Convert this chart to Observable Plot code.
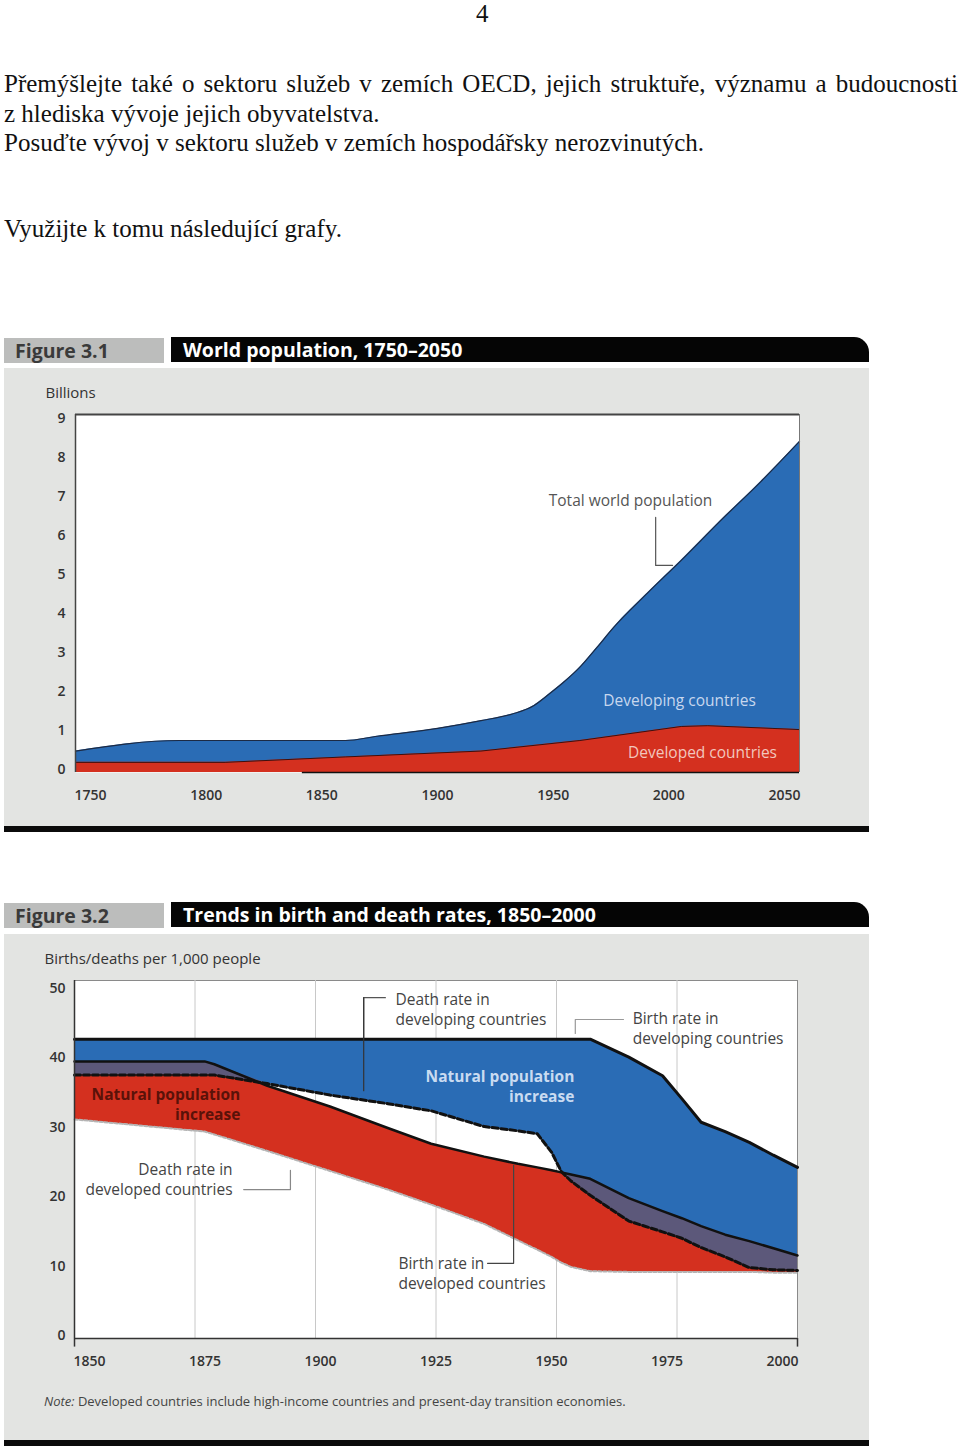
<!DOCTYPE html>
<html><head><meta charset="utf-8">
<script src="https://cdn.jsdelivr.net/npm/d3@7"></script>
<script src="https://cdn.jsdelivr.net/npm/@observablehq/plot@0.6"></script>
<style>
body{margin:0;background:#fff;}
#page{position:relative;width:960px;height:1448px;overflow:hidden;font-family:"Liberation Serif","Times New Roman",serif;color:#111;}
.t{position:absolute;font-size:25px;line-height:29.5px;white-space:nowrap;}
.j{text-align:justify;text-align-last:justify;}
.figl{position:absolute;left:4px;width:149px;height:25px;padding-left:11px;background:#bcbdbc;color:#3a3a3a;font:bold 19.5px/25px "Open Sans",sans-serif;}
.figt{position:absolute;left:171px;width:686px;height:25px;padding-left:12px;background:#050505;color:#fff;font:bold 19.5px/25px "Open Sans",sans-serif;border-top-right-radius:15px;}
.panel{position:absolute;left:4px;width:865px;background:#e3e4e2;}
.bar{position:absolute;left:4px;width:865px;height:6px;background:#0b0b0b;}
.panel svg{position:absolute;left:0;top:0;}
.note{position:absolute;left:40px;font:13px "Open Sans",sans-serif;color:#444;white-space:nowrap;}
</style>
</head><body>
<div id="page">
  <div class="t" style="left:476px;top:-1px;">4</div>
  <div class="t j" style="left:4px;top:69px;width:954px;">Přemýšlejte také o sektoru služeb v zemích OECD, jejich struktuře, významu a budoucnosti</div>
  <div class="t" style="left:4px;top:98.5px;">z hlediska vývoje jejich obyvatelstva.</div>
  <div class="t" style="left:4px;top:128px;">Posuďte vývoj v sektoru služeb v zemích hospodářsky nerozvinutých.</div>
  <div class="t" style="left:4px;top:214px;">Využijte k tomu následující grafy.</div>

  <div class="figl" style="top:338px;">Figure 3.1</div>
  <div class="figt" style="top:337px;">World population, 1750–2050</div>
  <div class="panel" id="p1" style="top:368px;height:458px;"></div>
  <div class="bar" style="top:826px;"></div>

  <div class="figl" style="top:903px;">Figure 3.2</div>
  <div class="figt" style="top:902px;">Trends in birth and death rates, 1850–2000</div>
  <div class="panel" id="p2" style="top:934px;height:506px;">
    <div class="note" style="top:458px;"><i>Note:</i> Developed countries include high-income countries and present-day transition economies.</div>
  </div>
  <div class="bar" style="top:1440px;"></div>
</div>
<script>
const BLUE = "#2a6cb5", RED = "#d4301f", PURPLE = "#5c587a";

// ---------- Figure 3.1 data (billions) ----------
const totalYears  = [1750, 1793, 1862, 1875, 1900, 1918, 1931, 1940, 1946, 1952, 1959, 1966, 1973, 1987, 2001, 2017, 2034, 2050];
const totalValues = [0.55, 0.82, 0.82, 0.93, 1.13, 1.33, 1.50, 1.72, 2.00, 2.30, 2.70, 3.20, 3.72, 4.60, 5.44, 6.44, 7.46, 8.49];
const devYears    = [1750, 1812, 1862, 1918, 1959, 2001, 2012, 2039, 2050];
const devValues   = [0.26, 0.26, 0.40, 0.55, 0.82, 1.18, 1.20, 1.13, 1.10];
const xTicks1 = [1750, 1800, 1850, 1900, 1950, 2000, 2050];
const yTicks1 = [0, 1, 2, 3, 4, 5, 6, 7, 8, 9];
const labels1 = [
  {text: "Total world population", year: 1980, value: 6.95, fill: "#555"},
  {text: "Developing countries", year: 2000.3, value: 1.82, fill: "#c7d7ee"},
  {text: "Developed countries", year: 2009.8, value: 0.51, fill: "#f2c6bd"}
];
const leader1 = [[1990.4, 6.54], [1990.4, 5.31], [1997.4, 5.31]];

// ---------- Figure 3.2 data (per 1,000 people) ----------
const rateYears = [1850, 1877, 1879, 1890, 1903, 1915, 1924, 1935, 1942, 1946, 1949, 1951, 1953, 1957, 1965, 1972, 1976, 1980, 1985, 1990, 1995, 2000];
const birthDeveloping = [41.8, 41.8, 41.8, 41.8, 41.8, 41.8, 41.8, 41.8, 41.8, 41.8, 41.8, 41.8, 41.8, 41.8, 39.3, 36.7, 33.5, 30.2, 28.9, 27.4, 25.6, 23.9];
const deathDeveloping = [36.8, 36.8, 36.8, 35.6, 34.0, 32.8, 31.8, 29.6, 29.0, 28.6, 26.0, 23.3, 22.0, 20.0, 16.4, 14.9, 14.0, 12.7, 11.4, 9.9, 9.6, 9.5];
const birthDeveloped  = [38.7, 38.7, 38.3, 35.3, 32.4, 29.4, 27.2, 25.4, 24.4, 23.9, 23.5, 23.2, 22.9, 22.3, 19.6, 17.8, 16.8, 15.7, 14.5, 13.6, 12.6, 11.6];
const deathDeveloped  = [30.6, 28.9, 28.5, 26.2, 23.4, 20.8, 18.7, 16.0, 13.7, 12.4, 11.4, 10.6, 10.0, 9.4, 9.3, 9.3, 9.3, 9.3, 9.3, 9.3, 9.2, 9.2];
const xTicks2 = [1850, 1875, 1900, 1925, 1950, 1975, 2000];
const yTicks2 = [0, 10, 20, 30, 40, 50];
const labels2 = [
  {text: "Death rate in\ndeveloping countries", year: 1916.6, value: 46.1, anchor: "start", fill: "#444", weight: 400},
  {text: "Birth rate in\ndeveloping countries", year: 1965.8, value: 43.4, anchor: "start", fill: "#444", weight: 400},
  {text: "Natural population\nincrease", year: 1884.4, value: 32.75, anchor: "end", fill: "#5a1209", weight: 700},
  {text: "Natural population\nincrease", year: 1953.7, value: 35.3, anchor: "end", fill: "#c9dbf1", weight: 700},
  {text: "Death rate in\ndeveloped countries", year: 1882.8, value: 22.35, anchor: "end", fill: "#444", weight: 400},
  {text: "Birth rate in\ndeveloped countries", year: 1917.2, value: 9.2, anchor: "start", fill: "#444", weight: 400}
];
const leaders2 = [
  {pts: [[1914.5, 47.6], [1910, 47.6], [1910, 34.6]], stroke: "#555"},
  {pts: [[1963.9, 44.55], [1953.9, 44.55], [1953.9, 42.6]], stroke: "#999"},
  {pts: [[1885.1, 20.8], [1894.8, 20.8], [1894.8, 23.5]], stroke: "#888"},
  {pts: [[1935.7, 10.5], [1941.1, 10.5], [1941.1, 24.2]], stroke: "#444"}
];

const font = {background: "transparent", fontFamily: "'Open Sans', sans-serif", fontSize: "14px", color: "#333", overflow: "visible"};
const tickDx = (i, n) => 15 - i * 30 / (n - 1);

// ---------- Chart 1 ----------
const total = totalYears.map((year, i) => ({year, value: totalValues[i]}));
const developed = devYears.map((year, i) => ({year, value: devValues[i]}));

const chart1 = Plot.plot({
  width: 865, height: 458,
  marginLeft: 71, marginRight: 70, marginTop: 46, marginBottom: 54,
  style: font,
  x: {domain: [1750, 2050]},
  y: {domain: [0, 9.18]},
  marks: [
    Plot.frame({fill: "white", stroke: "none"}),
    Plot.areaY(total, {x: "year", y: "value", fill: BLUE, curve: "monotone-x"}),
    Plot.lineY(total, {x: "year", y: "value", stroke: "#1c2a44", strokeWidth: 1.2, curve: "monotone-x"}),
    Plot.areaY(developed, {x: "year", y: "value", fill: RED}),
    Plot.lineY(developed, {x: "year", y: "value", stroke: "#3a1010", strokeWidth: 1}),
    Plot.ruleY([9.18], {stroke: "#444", strokeWidth: 2}),
    Plot.ruleX([2050], {stroke: "#777", strokeWidth: 1}),
    Plot.ruleX([1750], {stroke: "#444", strokeWidth: 1.5}),
    Plot.ruleY([0], {x1: 1844, x2: 2050, stroke: "#111", strokeWidth: 1.5}),
    Plot.axisY(yTicks1, {tickSize: 0, tickPadding: 10, dy: -3, fontWeight: 600, fill: "#333", label: null}),
    ...xTicks1.map((t, i) => Plot.axisX([t], {tickSize: 0, tickPadding: 18, dx: tickDx(i, xTicks1.length), fontWeight: 600, fill: "#333", label: null, tickFormat: d => String(d)})),
    Plot.text(["Billions"], {frameAnchor: "top-left", dx: -30, dy: -27, textAnchor: "start", fontSize: 15, fill: "#333"}),
    Plot.line(leader1, {stroke: "#555", strokeWidth: 1.2}),
    Plot.text(labels1, {x: "year", y: "value", text: "text", fill: "fill", fontSize: 15.5})
  ]
});
document.getElementById("p1").appendChild(chart1);

// ---------- Chart 2 ----------
const rates = rateYears.map((year, i) => ({
  year,
  bdg: birthDeveloping[i], ddg: deathDeveloping[i],
  bdd: birthDeveloped[i], ddd: deathDeveloped[i]
}));
const ovLo = d => Math.max(d.ddg, d.ddd);
const ovHi = d => Math.max(ovLo(d), Math.min(d.bdg, d.bdd));
const labelMarks = ["start", "end"].flatMap(anchor => [400, 700].map(weight =>
  Plot.text(labels2.filter(d => d.anchor === anchor && d.weight === weight),
    {x: "year", y: "value", text: "text", fill: "fill", textAnchor: anchor, fontWeight: weight, fontSize: 15.5, lineHeight: 1.29})));

const chart2 = Plot.plot({
  width: 865, height: 506,
  marginLeft: 70, marginRight: 72, marginTop: 46, marginBottom: 102,
  style: font,
  x: {domain: [1850, 2000]},
  y: {domain: [0, 50]},
  marks: [
    Plot.frame({fill: "white", stroke: "#8a8a8a"}),
    Plot.ruleX(xTicks2.slice(1, -1), {stroke: "#c8c8c8", strokeWidth: 1}),
    Plot.line(leaders2[0].pts, {stroke: leaders2[0].stroke, strokeWidth: 1.2}),
    Plot.line(leaders2[1].pts, {stroke: leaders2[1].stroke, strokeWidth: 1.2}),
    Plot.areaY(rates, {x: "year", y1: "ddg", y2: "bdg", fill: BLUE}),
    Plot.areaY(rates, {x: "year", y1: "ddd", y2: "bdd", fill: RED}),
    Plot.areaY(rates, {x: "year", y1: ovLo, y2: ovHi, fill: PURPLE}),
    Plot.lineY(rates, {x: "year", y: "ddd", stroke: "#b4b4b4", strokeWidth: 2, strokeDasharray: "3,2"}),
    Plot.lineY(rates, {x: "year", y: "bdd", stroke: "#111", strokeWidth: 2.5}),
    Plot.lineY(rates, {x: "year", y: "ddg", stroke: "#111", strokeWidth: 3, strokeDasharray: "6,3"}),
    Plot.lineY(rates, {x: "year", y: "bdg", stroke: "#111", strokeWidth: 3}),
    Plot.line(leaders2[0].pts.slice(1), {stroke: "#333", strokeWidth: 1.2}),
    Plot.line(leaders2[2].pts, {stroke: leaders2[2].stroke, strokeWidth: 1.2}),
    Plot.line(leaders2[3].pts, {stroke: leaders2[3].stroke, strokeWidth: 1.2}),
    Plot.ruleX([1850], {stroke: "#333", strokeWidth: 1.5}),
    Plot.ruleY([0], {stroke: "#333", strokeWidth: 1.5}),
    Plot.ruleX([1850, 2000], {y1: 0, y2: -1.2, stroke: "#333", strokeWidth: 1.5}),
    ...yTicks2.map(t => Plot.axisY([t], {tickSize: 0, tickPadding: 9, dy: -3 + t / 50 * 11, fontWeight: 600, fill: "#333", label: null})),
    ...xTicks2.map((t, i) => Plot.axisX([t], {tickSize: 0, tickPadding: 18, dx: tickDx(i, xTicks2.length), fontWeight: 600, fill: "#333", label: null, tickFormat: d => String(d)})),
    Plot.text(["Births/deaths per 1,000 people"], {frameAnchor: "top-left", dx: -30, dy: -27, textAnchor: "start", fontSize: 15, fill: "#333"}),
    ...labelMarks
  ]
});
document.getElementById("p2").insertBefore(chart2, document.getElementById("p2").firstChild);
</script>
</body></html>
